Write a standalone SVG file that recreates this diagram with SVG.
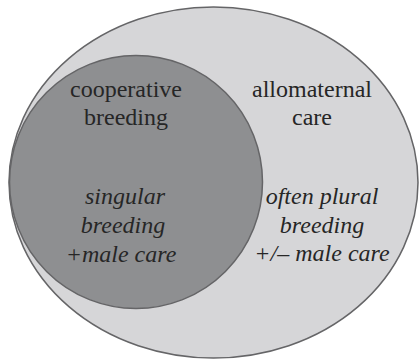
<svg xmlns="http://www.w3.org/2000/svg" width="419" height="361" viewBox="0 0 419 361">
  <style>
    .shape { stroke: #656567; stroke-width: 1.5; }
    .lbl { font-family: "Liberation Serif", "Times New Roman", serif; font-size: 24px; fill: #262626; text-anchor: middle; }
    .it { font-style: italic; }
  </style>
  <rect width="419" height="361" fill="#ffffff"/>
  <g id="allomaternal-care">
    <ellipse class="shape" cx="213.5" cy="182.5" rx="204.5" ry="175.5" fill="#d6d6d8"/>
    <text class="lbl" x="312" y="97">allomaternal</text>
    <text class="lbl" x="312" y="125">care</text>
    <text class="lbl it" x="322" y="204">often plural</text>
    <text class="lbl it" x="322" y="233">breeding</text>
    <text class="lbl it" x="322" y="261">+/– male care</text>
  </g>
  <g id="cooperative-breeding">
    <circle class="shape" cx="136" cy="182" r="126.5" fill="#8e8f91"/>
    <text class="lbl" x="126" y="97">cooperative</text>
    <text class="lbl" x="126" y="125">breeding</text>
    <text class="lbl it" x="125" y="204">singular</text>
    <text class="lbl it" x="123" y="233">breeding</text>
    <text class="lbl it" x="121" y="262">+male care</text>
  </g>
</svg>
